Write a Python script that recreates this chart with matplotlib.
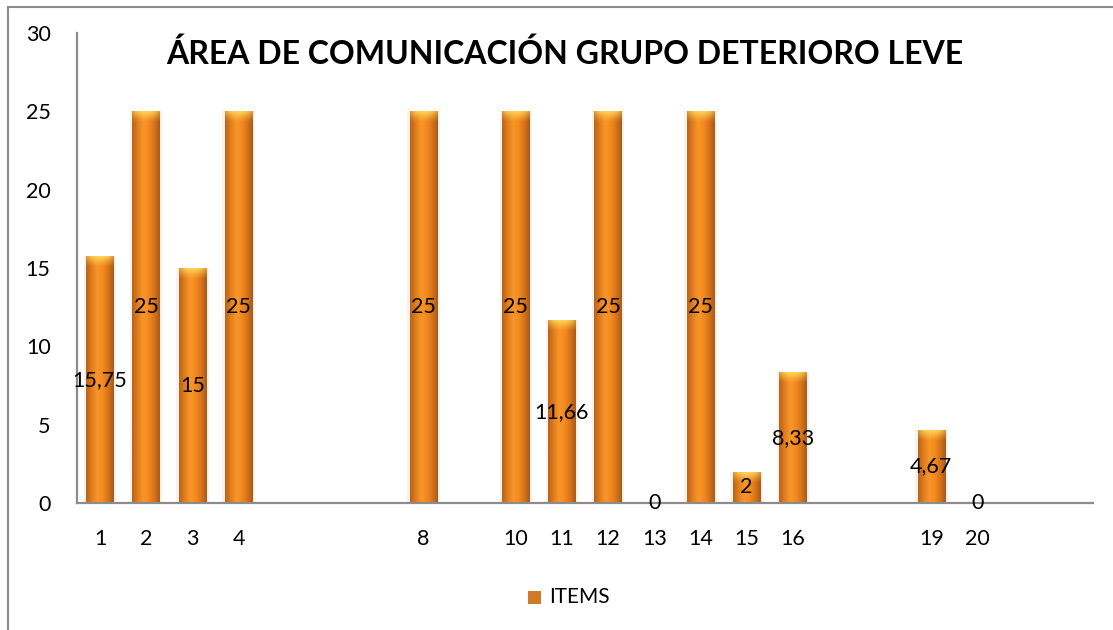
"""Área de comunicación, grupo deterioro leve: bar chart of item scores."""
import matplotlib
matplotlib.use("Agg")
import matplotlib.pyplot as plt
import numpy as np
from matplotlib.colors import LinearSegmentedColormap
from matplotlib.patches import Rectangle

plt.rcParams["font.family"] = ["Lato", "DejaVu Sans"]

# category slots 1..22; blank slots carry no bar and no label
ITEMS = ["1", "2", "3", "4", "", "", "", "8", "", "10", "11", "12", "13", "14",
         "15", "16", "", "", "19", "20", "", ""]
VALUES = [15.75, 25, 15, 25, None, None, None, 25, None, 25, 11.66, 25, 0, 25,
          2, 8.33, None, None, 4.67, 0, None, None]
LABELS = ["15,75", "25", "15", "25", "", "", "", "25", "", "25", "11,66", "25", "0",
          "25", "2", "8,33", "", "", "4,67", "0", "", ""]
SERIES = "ITEMS"
TITLE = "ÁREA DE COMUNICACIÓN GRUPO DETERIORO LEVE"

W, H = 1113, 630
fig = plt.figure(figsize=(W / 100, H / 100), dpi=100)
ax = fig.add_axes([77 / W, (H - 503) / H, (1093 - 77) / W, (503 - 33) / H])

# cylinder-like shading across each bar
shade = LinearSegmentedColormap.from_list(
    "cyl", ["#b8621c", "#e27d1c", "#f8962a", "#f48b1f", "#d8741b", "#a9591a"])
grad = np.linspace(0, 1, 64).reshape(1, -1)
# yellow glow at the top of each bar, fading downwards
cap_rgba = np.zeros((32, 64, 4))
cap_rgba[..., 0] = 1.0
cap_rgba[..., 1] = 0.85
cap_rgba[..., 2] = 0.35
yy = np.linspace(1, 0, 32)[:, None]
xx = np.linspace(-1, 1, 64)[None, :]
cap_rgba[..., 3] = np.clip(yy ** 1.2 * (1 - 0.5 * xx ** 2), 0, 1)

x = np.arange(1, len(ITEMS) + 1)
width = 0.6
for xi, v in zip(x, VALUES):
    if v is None or v == 0:
        continue
    # soft shadow
    ax.add_patch(Rectangle((xi - width / 2 - 0.05, 0), width + 0.1, v,
                           color="#f3e6d8", alpha=0.5, lw=0, zorder=1))
    bar = ax.bar(xi, v, width, color="#f08a1e", lw=0, zorder=2)[0]
    im = ax.imshow(grad, cmap=shade, extent=(xi - width / 2, xi + width / 2, 0, v),
                   aspect="auto", zorder=3, interpolation="bicubic")
    im.set_clip_path(bar)
    cap_h = min(0.7, v)
    cap = ax.imshow(cap_rgba, extent=(xi - width / 2, xi + width / 2, v - cap_h, v),
                    aspect="auto", zorder=4, interpolation="bicubic")
    cap.set_clip_path(bar)

for xi, v, lab in zip(x, VALUES, LABELS):
    if v is None:
        continue
    ax.text(xi, v / 2, lab, ha="center", va="center", fontsize=15.5, zorder=6)

ax.set_xlim(0.5, len(ITEMS) + 0.5)
ax.set_ylim(0, 30)
ax.set_yticks(range(0, 31, 5))
ax.set_xticks(x)
ax.set_xticklabels(ITEMS)
ax.tick_params(axis="both", length=0, labelsize=15.5)
ax.tick_params(axis="y", pad=19)
ax.tick_params(axis="x", pad=19)
for s in ["top", "right"]:
    ax.spines[s].set_visible(False)
for s in ["left", "bottom"]:
    ax.spines[s].set_color("#8c8c8c")
    ax.spines[s].set_linewidth(1.6)
ax.spines["bottom"].set_zorder(5)

fig.text(565 / W, 1 - 54 / H, TITLE, ha="center", va="center",
         fontsize=23, fontweight="bold")

# legend
fig.patches.append(Rectangle((528 / W, 1 - 604 / H), 13 / W, 13 / H,
                             transform=fig.transFigure, color="#cf7a26", lw=0))
fig.text(549 / W, 1 - 597 / H, SERIES, ha="left", va="center", fontsize=15)

# outer chart frame (cut off at right and bottom)
fig.patches.append(Rectangle((8 / W, -0.05), 1.2, 1 - 7 / H + 0.05,
                             transform=fig.transFigure, fill=False,
                             ec="#8c8c8c", lw=1.5))

fig.savefig("out.png", dpi=100)
